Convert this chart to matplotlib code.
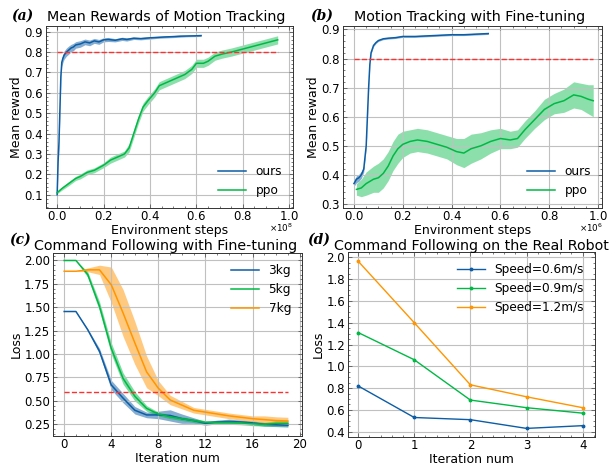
import numpy as np
import matplotlib
matplotlib.use("Agg")
import matplotlib.pyplot as plt
from matplotlib.ticker import ScalarFormatter, AutoMinorLocator

BLUE = "#0C5DA5"
GREEN = "#00B945"
ORANGE = "#FF9500"

# ---------------- (a) Mean Rewards of Motion Tracking ----------------
a_ours_x = [0.0, 0.004, 0.008, 0.012, 0.016, 0.02, 0.025, 0.03, 0.04, 0.05, 0.06, 0.07, 0.08,
            0.1, 0.12, 0.14, 0.16, 0.18, 0.2, 0.22, 0.25, 0.28, 0.3, 0.33, 0.36, 0.4,
            0.43, 0.46, 0.5, 0.53, 0.56, 0.6, 0.62]
a_ours_y = [0.10, 0.26, 0.36, 0.52, 0.68, 0.75, 0.77, 0.785, 0.80, 0.81, 0.82, 0.825, 0.835,
            0.84, 0.85, 0.845, 0.855, 0.85, 0.86, 0.862, 0.858, 0.865, 0.862, 0.868, 0.866, 0.870,
            0.872, 0.874, 0.876, 0.878, 0.879, 0.880, 0.881]
a_ours_err = [0.005, 0.02, 0.02, 0.02, 0.02, 0.02, 0.02, 0.02, 0.02, 0.02, 0.018, 0.018, 0.016,
              0.016, 0.014, 0.014, 0.012, 0.012, 0.01, 0.01, 0.008, 0.008, 0.008, 0.006, 0.006, 0.006,
              0.005, 0.005, 0.005, 0.005, 0.004, 0.004, 0.004]

a_ppo_x = [0.0, 0.02, 0.05, 0.08, 0.1, 0.13, 0.16, 0.2, 0.23, 0.26, 0.29, 0.31, 0.33, 0.35,
           0.37, 0.39, 0.42, 0.44, 0.46, 0.49, 0.52, 0.55, 0.58, 0.6, 0.63, 0.65, 0.68,
           0.71, 0.75, 0.8, 0.85, 0.9, 0.95]
a_ppo_y = [0.11, 0.13, 0.155, 0.18, 0.19, 0.21, 0.22, 0.245, 0.27, 0.285, 0.30, 0.33, 0.40, 0.47,
           0.53, 0.56, 0.60, 0.635, 0.645, 0.66, 0.675, 0.69, 0.715, 0.745, 0.745, 0.755, 0.78,
           0.79, 0.80, 0.815, 0.83, 0.845, 0.86]
a_ppo_err = [0.005, 0.008, 0.01, 0.01, 0.012, 0.012, 0.012, 0.012, 0.015, 0.015, 0.015, 0.02, 0.02, 0.02,
             0.02, 0.02, 0.02, 0.02, 0.02, 0.02, 0.02, 0.02, 0.02, 0.02, 0.02, 0.02, 0.02,
             0.02, 0.02, 0.02, 0.02, 0.02, 0.02]

# ---------------- (b) Motion Tracking with Fine-tuning ----------------
b_ours_x = [0.0, 0.01, 0.02, 0.03, 0.04, 0.05, 0.055, 0.06, 0.065, 0.07, 0.08, 0.09, 0.1,
            0.12, 0.14, 0.17, 0.2, 0.25, 0.3, 0.35, 0.4, 0.45, 0.5, 0.55]
b_ours_y = [0.37, 0.385, 0.39, 0.40, 0.42, 0.50, 0.60, 0.70, 0.78, 0.82, 0.845, 0.855, 0.862,
            0.868, 0.870, 0.872, 0.876, 0.876, 0.878, 0.880, 0.882, 0.882, 0.884, 0.886]
b_ours_err = [0.01, 0.012, 0.012, 0.012, 0.01, 0.008, 0.006, 0.005, 0.004, 0.004, 0.004, 0.003, 0.003,
              0.003, 0.003, 0.003, 0.003, 0.003, 0.003, 0.003, 0.003, 0.003, 0.003, 0.003]

b_ppo_x = [0.01, 0.03, 0.05, 0.08, 0.1, 0.12, 0.14, 0.16, 0.18, 0.2, 0.23, 0.26, 0.3, 0.34,
           0.38, 0.42, 0.45, 0.48, 0.52, 0.56, 0.6, 0.64, 0.67, 0.7, 0.74, 0.78, 0.82,
           0.86, 0.9, 0.93, 0.96, 0.98]
b_ppo_y = [0.35, 0.355, 0.37, 0.385, 0.39, 0.405, 0.43, 0.465, 0.49, 0.505, 0.515, 0.52, 0.515, 0.505,
           0.495, 0.48, 0.475, 0.49, 0.50, 0.515, 0.525, 0.52, 0.525, 0.555, 0.59, 0.625, 0.645,
           0.655, 0.675, 0.67, 0.66, 0.655]
b_ppo_err = [0.02, 0.03, 0.04, 0.045, 0.05, 0.05, 0.05, 0.05, 0.05, 0.045, 0.04, 0.04, 0.04, 0.04,
             0.04, 0.045, 0.05, 0.05, 0.045, 0.04, 0.035, 0.03, 0.03, 0.03, 0.03, 0.035, 0.035,
             0.04, 0.045, 0.045, 0.05, 0.055]

# ---------------- (c) Command Following with Fine-tuning ----------------
c_iter = list(range(20))
c_3kg = [1.455, 1.455, 1.26, 1.03, 0.67, 0.53, 0.40, 0.35, 0.35, 0.345, 0.31, 0.29, 0.26,
         0.275, 0.28, 0.275, 0.265, 0.25, 0.245, 0.24]
c_3kg_err = [0.0, 0.0, 0.01, 0.03, 0.05, 0.05, 0.04, 0.03, 0.04, 0.06, 0.05, 0.03, 0.02,
             0.02, 0.025, 0.02, 0.02, 0.02, 0.02, 0.02]
c_5kg = [2.0, 2.0, 1.85, 1.51, 1.06, 0.74, 0.55, 0.42, 0.36, 0.33, 0.31, 0.29, 0.27,
         0.27, 0.27, 0.265, 0.255, 0.25, 0.26, 0.26]
c_5kg_err = [0.0, 0.0, 0.03, 0.05, 0.06, 0.06, 0.05, 0.03, 0.02, 0.02, 0.02, 0.02, 0.02,
             0.02, 0.02, 0.02, 0.02, 0.02, 0.03, 0.03]
c_7kg = [1.885, 1.885, 1.90, 1.90, 1.74, 1.44, 1.12, 0.81, 0.635, 0.51, 0.455, 0.40, 0.38,
         0.36, 0.34, 0.325, 0.31, 0.30, 0.29, 0.285]
c_7kg_err = [0.0, 0.0, 0.02, 0.05, 0.19, 0.25, 0.23, 0.17, 0.08, 0.05, 0.04, 0.03, 0.03,
             0.03, 0.03, 0.03, 0.03, 0.04, 0.04, 0.04]
c_threshold = 0.6

# ---------------- (d) Command Following on the Real Robot ----------------
d_iter = [0, 1, 2, 3, 4]
d_speed06 = [0.82, 0.53, 0.51, 0.43, 0.455]
d_speed09 = [1.31, 1.06, 0.69, 0.62, 0.57]
d_speed12 = [1.965, 1.40, 0.83, 0.72, 0.62]

reward_threshold = 0.8

plt.rcParams.update({
    "font.size": 9,
    "xtick.labelsize": 8.5, "ytick.labelsize": 8.5,
    "xtick.direction": "in", "ytick.direction": "in",
    "xtick.top": True, "ytick.right": True,
    "xtick.major.size": 3, "ytick.major.size": 3,
    "xtick.minor.size": 1.5, "ytick.minor.size": 1.5,
    "xtick.major.width": 0.5, "ytick.major.width": 0.5,
    "xtick.minor.width": 0.5, "ytick.minor.width": 0.5,
    "xtick.major.pad": 1.5, "ytick.major.pad": 2,
    "axes.linewidth": 0.7,
    "axes.edgecolor": "#333333",
    "axes.grid": True,
    "grid.color": "#c0c0c0",
    "grid.linewidth": 0.8,
    "legend.frameon": False,
    "legend.fontsize": 8.7,
    "legend.handlelength": 2.3,
})

fig = plt.figure(figsize=(6.13, 4.66), dpi=100)
W, H = 613.0, 466.0

def add_ax(l, t, r, b):
    return fig.add_axes([l / W, 1 - b / H, (r - l) / W, (b - t) / H])

def band(ax, x, y, e, color, alpha=0.45, lw=1.1, label=None):
    x = np.array(x); y = np.array(y); e = np.array(e)
    ax.fill_between(x, y - e, y + e, color=color, alpha=alpha, lw=0)
    ax.plot(x, y, color=color, lw=lw, label=label)

def finish(ax):
    ax.xaxis.set_minor_locator(AutoMinorLocator())
    ax.yaxis.set_minor_locator(AutoMinorLocator())
    ax.tick_params(which="both", colors="#444444", labelcolor="black")

def fig_text(s, xpix, ypix, **kw):
    fig.text(xpix / W, 1 - ypix / H, s, va="baseline", **kw)

def panel_label(s, xpix, ypix):
    fig_text(s, xpix, ypix, fontsize=10, family="DejaVu Serif",
             style="italic", weight="bold", ha="left")

def title(s, xpix, ypix):
    fig_text(s, xpix, ypix, fontsize=10.3, ha="center")

def sci_x(ax, power):
    fmt = ScalarFormatter(useMathText=True)
    fmt.set_powerlimits((power, power))
    ax.xaxis.set_major_formatter(fmt)
    ax.xaxis.get_offset_text().set_visible(False)

# (a)
ax = add_ax(46, 26, 293, 208)
band(ax, np.array(a_ours_x) * 1e8, a_ours_y, a_ours_err, BLUE, alpha=0.5, label="ours")
band(ax, np.array(a_ppo_x) * 1e8, a_ppo_y, a_ppo_err, GREEN, alpha=0.45, label="ppo")
ax.plot([0, 0.95e8], [reward_threshold] * 2, "--", color="#FF3030", lw=1.0)
ax.set_xlim(-0.048e8, 1.016e8)
ax.set_ylim(0.035, 0.928)
ax.set_yticks(np.arange(0.1, 0.95, 0.1))
ax.set_xticks(np.arange(0, 1.01, 0.2) * 1e8)
sci_x(ax, 8)
ax.set_xlabel("Environment steps", labelpad=1)
ax.set_ylabel("Mean reward", labelpad=1)
ax.legend(loc="lower right")
finish(ax)
fig_text(r"$\times10^{8}$", 281, 232, fontsize=6.3, ha="center")
panel_label("(a)", 11, 20)
title("Mean Rewards of Motion Tracking", 166, 20.5)

# (b)
ax = add_ax(343, 26, 602, 208)
band(ax, np.array(b_ours_x) * 1e6, b_ours_y, b_ours_err, BLUE, alpha=0.5, label="ours")
band(ax, np.array(b_ppo_x) * 1e6, b_ppo_y, b_ppo_err, GREEN, alpha=0.45, label="ppo")
ax.plot([0, 0.98e6], [reward_threshold] * 2, "--", color="#FF3030", lw=1.0)
ax.set_xlim(-0.045e6, 1.016e6)
ax.set_ylim(0.286, 0.912)
ax.set_yticks(np.arange(0.3, 0.95, 0.1))
ax.set_xticks(np.arange(0, 1.01, 0.2) * 1e6)
sci_x(ax, 6)
ax.set_xlabel("Environment steps", labelpad=1)
ax.set_ylabel("Mean reward", labelpad=1)
ax.legend(loc="lower right")
finish(ax)
fig_text(r"$\times10^{6}$", 591, 232, fontsize=6.3, ha="center")
panel_label("(b)", 310, 20)
title("Motion Tracking with Fine-tuning", 470, 20.5)

# (c)
ax = add_ax(53, 253, 302, 436)
band(ax, c_iter, c_3kg, c_3kg_err, BLUE, alpha=0.5, label="3kg")
band(ax, c_iter, c_5kg, c_5kg_err, GREEN, alpha=0.5, label="5kg")
band(ax, c_iter, c_7kg, c_7kg_err, ORANGE, alpha=0.5, label="7kg")
ax.plot([0, 19], [c_threshold] * 2, "--", color="#FF3030", lw=1.0)
ax.set_xlim(-0.95, 20.2)
ax.set_ylim(0.125, 2.08)
ax.set_xticks(range(0, 21, 4))
ax.set_yticks(np.arange(0.25, 2.01, 0.25))
ax.set_xlabel("Iteration num", labelpad=1)
ax.set_ylabel("Loss", labelpad=1)
ax.legend(loc="upper right")
finish(ax)
panel_label("(c)", 9, 244)
title("Command Following with Fine-tuning", 165.5, 250)

# (d)
ax = add_ax(348, 252, 595, 437)
ax.plot(d_iter, d_speed06, "-o", color=BLUE, lw=1.0, ms=1.8, label="Speed=0.6m/s")
ax.plot(d_iter, d_speed09, "-o", color=GREEN, lw=1.0, ms=1.8, label="Speed=0.9m/s")
ax.plot(d_iter, d_speed12, "-o", color=ORANGE, lw=1.0, ms=1.8, label="Speed=1.2m/s")
ax.set_xlim(-0.18, 4.22)
ax.set_ylim(0.351, 2.049)
ax.set_xticks(d_iter)
ax.set_yticks(np.arange(0.4, 2.01, 0.2))
ax.set_xlabel("Iteration num", labelpad=1)
ax.set_ylabel("Loss", labelpad=1)
ax.legend(loc="upper right")
finish(ax)
panel_label("(d)", 307, 244)
title("Command Following on the Real Robot", 471, 250)

fig.savefig("out.png", dpi=100)
